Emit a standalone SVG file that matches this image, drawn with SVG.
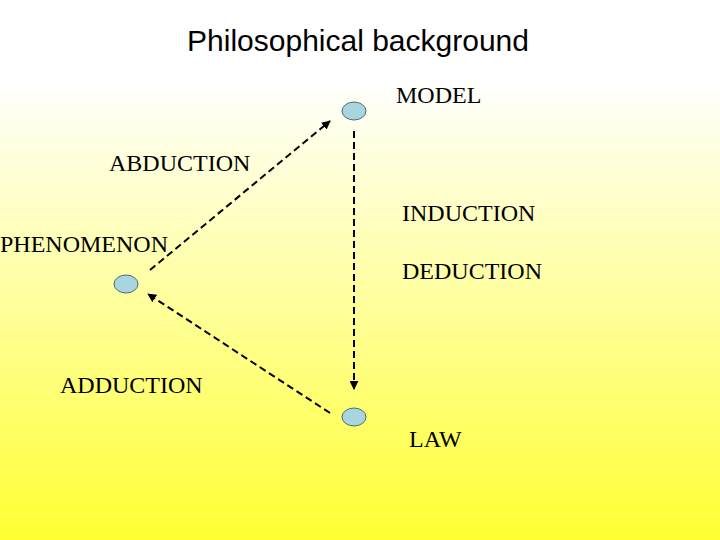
<svg xmlns="http://www.w3.org/2000/svg" width="720" height="540" viewBox="0 0 720 540">
<defs>
<linearGradient id="bg" x1="0" y1="0" x2="0" y2="1">
<stop offset="0" stop-color="#ffffff"/><stop offset="0.15" stop-color="#ffffff"/><stop offset="1" stop-color="#ffff33"/>
</linearGradient>
<marker id="ah" viewBox="0 0 10 10" refX="9" refY="5" markerWidth="9" markerHeight="9" markerUnits="userSpaceOnUse" orient="auto"><path d="M0,0 L10,5 L0,10 z" fill="#000"/></marker>
</defs>
<style>
.n{fill:#a9d5de;stroke:#4a6a78;stroke-width:1}
.t{font-family:"Liberation Serif",serif;font-size:24px;fill:#000}
.c{stroke:#000;stroke-width:2;stroke-dasharray:7,4;fill:none;marker-end:url(#ah)}
</style>
<rect width="720" height="540" fill="url(#bg)"/>
<text x="358" y="51" text-anchor="middle" font-family="Liberation Sans,sans-serif" font-size="30">Philosophical background</text>
<g id="connectors">
<line class="c" x1="150" y1="270" x2="330" y2="121"/>
<line class="c" x1="354" y1="131" x2="354" y2="389"/>
<line class="c" x1="330" y1="413" x2="148" y2="294"/>
</g>
<g id="model"><ellipse class="n" cx="354" cy="111" rx="12" ry="9"/><text class="t" x="396" y="103">MODEL</text></g>
<g id="phenomenon"><ellipse class="n" cx="126" cy="284" rx="12" ry="9"/><text class="t" x="0" y="252">PHENOMENON</text></g>
<g id="law"><ellipse class="n" cx="354" cy="417" rx="12" ry="9"/><text class="t" x="409" y="447">LAW</text></g>
<g id="labels">
<text class="t" x="109" y="171">ABDUCTION</text>
<text class="t" x="402" y="221">INDUCTION</text>
<text class="t" x="402" y="279">DEDUCTION</text>
<text class="t" x="60" y="393">ADDUCTION</text>
</g>
</svg>
